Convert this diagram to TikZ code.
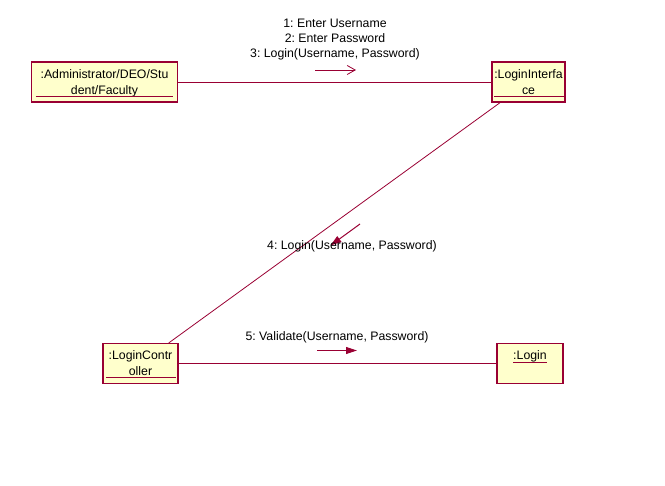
\documentclass[tikz,border=0pt]{standalone}
\usepackage{fontspec}
\setmainfont{Liberation Sans}
\usetikzlibrary{arrows.meta}
\frenchspacing

\definecolor{roseline}{RGB}{153,0,51}
\definecolor{rosefill}{RGB}{255,255,204}

\tikzset{
  obj/.style={draw=roseline, fill=rosefill, line width=1.1pt, minimum height=40, inner sep=0},
  objtext/.style={anchor=base, inner sep=0, align=center},
  uline/.style={draw=roseline, line width=1pt},
  link/.style={draw=roseline, line width=0.8pt},
  msg/.style={inner sep=0, align=center},
  openmsg/.style={roseline, line width=0.8pt, -{Straight Barb[length=8pt,width=9pt]}},
  fullmsg/.style={roseline, line width=1pt, -{Triangle[length=11pt,width=7pt]}}
}

\begin{document}
\begin{tikzpicture}[x=1pt, y=-1pt, font=\fontsize{12.3}{16}\selectfont]
    \useasboundingbox (0,0) rectangle (665,486);

    % 1. objects
    \node[obj, minimum width=146] (admin) at (104.5,82) {};
    \node[obj, minimum width=73] (iface) at (528.5,82) {};
    \node[obj, minimum width=75] (ctrl) at (140.5,363.5) {};
    \node[obj, minimum width=66] (login) at (530,363.5) {};

    % 2. object names, underlined
    \node[objtext, text width=140] (admintxt) at ([shift={(0,17)}]admin.north) {:Administrator/DEO/Stu\\dent/Faculty};
    \node[objtext, text width=70] (ifacetxt) at ([shift={(0,17)}]iface.north) {:LoginInterfa\\ce};
    \node[objtext, text width=72] (ctrltxt) at ([shift={(0,17)}]ctrl.north) {:LoginContr\\oller};
    \node[objtext] (logintxt) at ([shift={(0,17)}]login.north) {:Login};
    \draw[uline] ([shift={(5,35)}]admin.north west) -- ([shift={(-5,35)}]admin.north east);
    \draw[uline] ([shift={(3,35)}]iface.north west) -- ([shift={(-2,35)}]iface.north east);
    \draw[uline] ([shift={(4,35)}]ctrl.north west) -- ([shift={(-3,35)}]ctrl.north east);
    \draw[uline] ([shift={(0,3)}]logintxt.base west) -- ([shift={(0,3)}]logintxt.base east);

    % 3. links
    \draw[link] (admin) -- (iface);
    \draw[link] (iface) -- (ctrl);
    \draw[link] (ctrl) -- (login);

    % 4. messages
    \coordinate (m3s) at (315,70);
    \coordinate (m3e) at (356,70);
    \coordinate (m4s) at (360,224);
    \coordinate (m4e) at (330.5,245.5);
    \coordinate (m5s) at (317,350.5);
    \coordinate (m5e) at (357,350.5);
    \draw[openmsg] (m3s) -- (m3e);
    \draw[fullmsg] (m4s) -- (m4e);
    \draw[fullmsg] (m5s) -- (m5e);

    \node[msg, font=\fontsize{12.3}{15}\selectfont] (msg123) at (335,40) {1: Enter Username\\2: Enter Password\\3: Login(Username, Password)};
    \node[msg] (msg4) at (352,246) {4: Login(Username, Password)};
    \node[msg] (msg5) at (337,337) {5: Validate(Username, Password)};
\end{tikzpicture}
\end{document}
